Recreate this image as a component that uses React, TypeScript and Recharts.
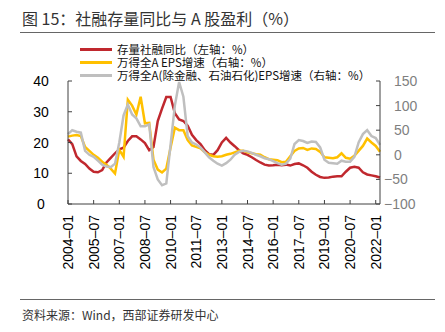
import React from 'react';
import { LineChart, Line, XAxis, YAxis } from 'recharts';

// quarterly categories 2004-01 .. 2022-04
const startYear = 2004;
const pointCount = 74;
const dates: string[] = [];
for (let i = 0; i < pointCount; i++) {
  const m = i * 3;
  dates.push(`${startYear + Math.floor(m / 12)}-${String((m % 12) + 1).padStart(2, '0')}`);
}

const tickLabels = ['2004-01', '2005-07', '2007-01', '2008-07', '2010-01', '2011-07', '2013-01', '2014-07', '2016-01', '2017-07', '2019-01', '2020-07', '2022-01'];
const leftTicks = [0, 10, 20, 30, 40];
const rightTicks = [-100, -50, 0, 50, 100, 150];

// 存量社融同比 (left axis)
const tsfGrowth = [
  21, 19.5, 15.5, 14, 13, 11.5, 10.5, 10.3, 11, 13.5, 15, 16.5,
  17.8, 18.3, 20.5, 22, 22, 21, 19.8, 17.5, 18.5, 27, 31, 34.8,
  34.8, 29.5, 27.5, 27, 25.5, 22.5, 20.8, 19.5, 17.5, 16.2, 16, 17.5,
  20, 21.5, 20, 18.8, 17.5, 16.5, 16, 15.2, 14.3, 13.5, 12.8, 12.5,
  12.6, 12.8, 12.6, 12.8, 12.5, 13, 13.2, 12.6, 11.8, 10.5, 9.5, 8.8,
  8.5, 8.6, 8.9, 9.0, 9.0, 10.5, 11.8, 12.1, 11.8, 10.3, 9.6, 9.3,
  9.0, 8.6,
];

// 万得全A EPS增速 (right axis)
const epsAll = [
  37, 39, 40, 38, 16, 8, 0, -6, -14, -20, -28, -38,
  10, -4, 112, 100, 82, 118, 64, 65, -10, -30, -36, -28,
  15, 55, 50, 50, 30, 19, 16, 13, 5, 0, -3, -4,
  -3, 0, 2, 5, 8, 8, 5, 3, 1, 0, -5, -9,
  -10, -11, -15, -14, -3, 8, 13, 14, 10, 13, 12, 6,
  -5, -6, -7, -5, 3, -6, -8, -2, 8, 18, 33, 25,
  18, 6,
];

// 万得全A(除金融、石油石化)EPS增速 (right axis)
const epsExFin = [
  42, 50, 47, 45, 8, 0, -4, -12, -20, -24, -25, -18,
  25, 80, 102, 82, 74, 58, 58, 62, -25, -50, -62, -58,
  20, 100, 148, 118, 38, 25, 21, 15, 5, -5, -12, -18,
  -22, -17, -10, 0, 6, 8, 7, 4, 0, -3, -7, -9,
  -13, -17, -20, -18, -8, 22, 30, 28, 24, 27, 26, 15,
  -10, -16, -17, -18, -12, -14, -14, -4, 25, 42, 50, 38,
  34, 20,
];

const seriesNames = [
  '存量社融同比（左轴：%）',
  '万得全A EPS增速（右轴：%）',
  '万得全A(除金融、石油石化)EPS增速（右轴：%）',
];
const seriesColors = ['#C0282E', '#FFC000', '#BFBFBF'];

const data = dates.map((d, i) => ({
  date: d,
  tsf: tsfGrowth[i],
  eps: epsAll[i],
  epsEx: epsExFin[i],
}));

const AXIS = '#404040';
const NUM_FONT = '"Liberation Sans", Arial, sans-serif';
const CJK_FONT = '"Noto Sans CJK SC", "Noto Sans", sans-serif';

const LeftTick = (props: any) => {
  const { x, y, payload } = props;
  return (
    <g>
      <line x1={x} x2={x + 4} y1={y} y2={y} stroke={AXIS} strokeWidth={1} />
      <text x={x - 27} y={y} dy="0.36em" textAnchor="middle" fontSize={14} fontFamily={NUM_FONT} fill="#000">
        {payload.value}
      </text>
    </g>
  );
};

const RightTick = (props: any) => {
  const { x, y, payload } = props;
  const v = Number(payload.value);
  const label = v < 0 ? `\u2212${Math.abs(v)}` : `${v}`;
  return (
    <g>
      <line x1={x - 4} x2={x} y1={y} y2={y} stroke={AXIS} strokeWidth={1} />
      <text x={v < 0 ? x + 4 : x + 14} y={y} dy="0.36em" textAnchor="start" fontSize={14} fontFamily={NUM_FONT} fill="#7F7F7F">
        {label}
      </text>
    </g>
  );
};

const BottomTick = (props: any) => {
  const { x, y, payload } = props;
  const label = String(payload.value).replace('-', '\u2013');
  return (
    <g>
      <line x1={x} x2={x} y1={y} y2={y - 4} stroke={AXIS} strokeWidth={1} />
      <text
        x={x}
        y={y + 11}
        dy="0.36em"
        textAnchor="end"
        transform={`rotate(-90 ${x} ${y + 11})`}
        fontSize={14}
        fontFamily={NUM_FONT}
        fill="#000"
      >
        {label}
      </text>
    </g>
  );
};

export default function App() {
  return (
    <div style={{ position: 'absolute', left: 0, top: 0, width: 445, height: 332, background: '#fff', overflow: 'hidden' }}>
      <div style={{ position: 'absolute', left: 22, top: 8, fontSize: 16, fontFamily: CJK_FONT, color: '#333', whiteSpace: 'nowrap', lineHeight: '20px' }}>
        图 15：社融存量同比与 A 股盈利（%）
      </div>
      <div style={{ position: 'absolute', left: 20, top: 32, width: 415, height: 1, background: '#666' }} />
      <LineChart
        width={445}
        height={332}
        data={data}
        margin={{ top: 81, right: 15, left: 28, bottom: 48 }}
        style={{ position: 'absolute', left: 0, top: 0 }}
      >
        <XAxis
          dataKey="date"
          interval={5}
          height={80}
          tickSize={0}
          tickMargin={0}
          tickLine={false}
          axisLine={{ stroke: AXIS, strokeWidth: 1 }}
          tick={<BottomTick />}
        />
        <YAxis
          yAxisId="left"
          orientation="left"
          domain={[0, 40]}
          ticks={leftTicks}
          width={40}
          tickSize={0}
          tickMargin={0}
          tickLine={false}
          axisLine={{ stroke: AXIS, strokeWidth: 1 }}
          tick={<LeftTick />}
        />
        <YAxis
          yAxisId="right"
          orientation="right"
          domain={[-100, 150]}
          ticks={rightTicks}
          width={50}
          tickSize={0}
          tickMargin={0}
          tickLine={false}
          axisLine={{ stroke: AXIS, strokeWidth: 1 }}
          tick={<RightTick />}
        />
        <Line yAxisId="left" type="linear" dataKey="tsf" name={seriesNames[0]} stroke={seriesColors[0]} strokeWidth={2.5} dot={false} isAnimationActive={false} />
        <Line yAxisId="right" type="linear" dataKey="eps" name={seriesNames[1]} stroke={seriesColors[1]} strokeWidth={2.5} dot={false} isAnimationActive={false} />
        <Line yAxisId="right" type="linear" dataKey="epsEx" name={seriesNames[2]} stroke={seriesColors[2]} strokeWidth={2.5} dot={false} isAnimationActive={false} />
      </LineChart>
      {seriesNames.map((n, i) => (
        <div key={n} style={{ position: 'absolute', left: 80, top: 43 + i * 13, height: 12, display: 'flex', alignItems: 'center', whiteSpace: 'nowrap' }}>
          <div style={{ width: 32, height: 3, background: seriesColors[i], marginRight: 5 }} />
          <span style={{ fontSize: 11.5, fontFamily: CJK_FONT, color: '#111', lineHeight: '12px', display: 'inline-block', height: 12 }}>{n}</span>
        </div>
      ))}
      <div style={{ position: 'absolute', left: 20, top: 299, width: 415, height: 1, background: '#666' }} />
      <div style={{ position: 'absolute', left: 22, top: 307, fontSize: 12, fontFamily: CJK_FONT, color: '#333', whiteSpace: 'nowrap', lineHeight: '16px' }}>
        资料来源：Wind，西部证券研发中心
      </div>
    </div>
  );
}
